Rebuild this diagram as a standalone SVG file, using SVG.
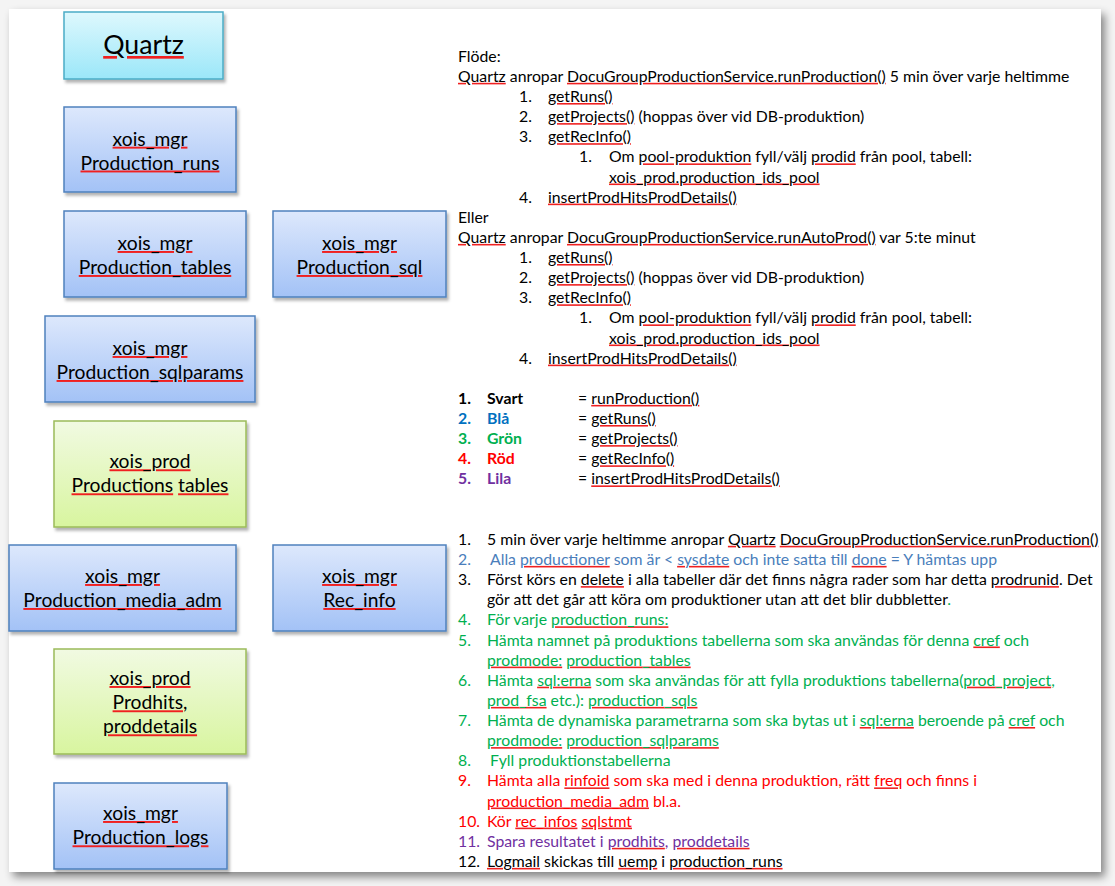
<svg xmlns="http://www.w3.org/2000/svg" width="1115" height="886" viewBox="0 0 1115 886">
<style>
text { font-family: Lato, "Liberation Sans", sans-serif; fill: #000; --c: #000; }
.t { font-size: 15.8px; }
.lbl { font-size: 19.3px; text-anchor: middle; }
.sq { fill: #f02020; text-decoration: underline; text-decoration-thickness: 1px; text-underline-offset: 2.5px; }
.w { fill: var(--c); }
.b { font-weight: bold; }
.blue { fill: #0070C0; --c: #0070C0; }
.slate { fill: #4A7EBB; --c: #4A7EBB; }
.green { fill: #00B050; --c: #00B050; }
.red { fill: #FF0000; --c: #FF0000; }
.purple { fill: #7030A0; --c: #7030A0; }
.bx { stroke: #4F81BD; stroke-width: 1.5; fill: url(#gBlue); filter: url(#sh); }
.gx { stroke: #9BBB59; stroke-width: 1.5; fill: url(#gGreen); filter: url(#sh); }
.cx { stroke: #4BACC6; stroke-width: 1.5; fill: url(#gCyan); filter: url(#sh); }
</style>
<defs>
<linearGradient id="gBlue" x1="0" y1="0" x2="0" y2="1"><stop offset="0" stop-color="#DDE8FC"/><stop offset="1" stop-color="#A3C2F6"/></linearGradient>
<linearGradient id="gGreen" x1="0" y1="0" x2="0" y2="1"><stop offset="0" stop-color="#F1FAE2"/><stop offset="1" stop-color="#D8F59F"/></linearGradient>
<linearGradient id="gCyan" x1="0" y1="0" x2="0" y2="1"><stop offset="0" stop-color="#DEF8FD"/><stop offset="1" stop-color="#9BE7F9"/></linearGradient>
<filter id="sh" x="-10%" y="-10%" width="130%" height="130%"><feDropShadow dx="2" dy="3" stdDeviation="1.5" flood-color="#000" flood-opacity="0.3"/></filter>
<filter id="psh" x="-5%" y="-5%" width="110%" height="110%"><feDropShadow dx="4" dy="5" stdDeviation="4" flood-color="#000" flood-opacity="0.45"/></filter>
</defs>
<rect width="1115" height="886" fill="#f4f4f4"/>
<rect x="9" y="9" width="1092" height="863" fill="#fff" filter="url(#psh)"/>

<g id="connectors"/>

<g id="quartz"><rect class="cx" x="64" y="12" width="159" height="67"/><text x="143.5" y="54" style="font-size:26.7px;text-anchor:middle"><tspan class="sq"><tspan class="w">Quartz</tspan></tspan></text></g>

<g id="production_runs"><rect class="bx" x="64" y="107" width="172" height="85"/><text class="lbl" x="150" y="145.7"><tspan class="sq"><tspan class="w">xois_mgr</tspan></tspan></text><text class="lbl" x="150" y="169.5"><tspan class="sq"><tspan class="w">Production_runs</tspan></tspan></text></g>

<g id="production_tables"><rect class="bx" x="64" y="211" width="182" height="86"/><text class="lbl" x="155" y="250"><tspan class="sq"><tspan class="w">xois_mgr</tspan></tspan></text><text class="lbl" x="155" y="274"><tspan class="sq"><tspan class="w">Production_tables</tspan></tspan></text></g>

<g id="production_sql"><rect class="bx" x="273" y="211" width="173" height="86"/><text class="lbl" x="359.5" y="250"><tspan class="sq"><tspan class="w">xois_mgr</tspan></tspan></text><text class="lbl" x="359.5" y="274"><tspan class="sq"><tspan class="w">Production_sql</tspan></tspan></text></g>

<g id="production_sqlparams"><rect class="bx" x="45" y="316" width="210" height="86"/><text class="lbl" x="150" y="355"><tspan class="sq"><tspan class="w">xois_mgr</tspan></tspan></text><text class="lbl" x="150" y="379"><tspan class="sq"><tspan class="w">Production_sqlparams</tspan></tspan></text></g>

<g id="productions_tables"><rect class="gx" x="54" y="421" width="192" height="106"/><text class="lbl" x="150" y="468.3"><tspan class="sq"><tspan class="w">xois_prod</tspan></tspan></text><text class="lbl" x="150" y="492.3"><tspan class="sq"><tspan class="w">Productions</tspan></tspan> <tspan class="sq"><tspan class="w">tables</tspan></tspan></text></g>

<g id="production_media_adm"><rect class="bx" x="9" y="545" width="227" height="86"/><text class="lbl" x="122.5" y="583"><tspan class="sq"><tspan class="w">xois_mgr</tspan></tspan></text><text class="lbl" x="122.5" y="607"><tspan class="sq"><tspan class="w">Production_media_adm</tspan></tspan></text></g>

<g id="rec_info"><rect class="bx" x="273" y="545" width="173" height="86"/><text class="lbl" x="359.5" y="583"><tspan class="sq"><tspan class="w">xois_mgr</tspan></tspan></text><text class="lbl" x="359.5" y="607"><tspan class="sq"><tspan class="w">Rec_info</tspan></tspan></text></g>

<g id="prodhits"><rect class="gx" x="54" y="649" width="192" height="105"/><text class="lbl" x="150" y="685"><tspan class="sq"><tspan class="w">xois_prod</tspan></tspan></text><text class="lbl" x="150" y="709.3"><tspan class="sq"><tspan class="w">Prodhits</tspan></tspan>,</text><text class="lbl" x="150" y="733.3"><tspan class="sq"><tspan class="w">proddetails</tspan></tspan></text></g>

<g id="production_logs"><rect class="bx" x="54" y="783" width="173" height="86"/><text class="lbl" x="140.5" y="820"><tspan class="sq"><tspan class="w">xois_mgr</tspan></tspan></text><text class="lbl" x="140.5" y="844.3"><tspan class="sq"><tspan class="w">Production_logs</tspan></tspan></text></g>

<g id="flow-text">
<text class="t" x="458" y="61.7">Flöde:</text>
<text class="t" x="458" y="81.8"><tspan class="sq"><tspan class="w">Quartz</tspan></tspan> anropar <tspan class="sq"><tspan class="w">DocuGroupProductionService.runProduction()</tspan></tspan> 5 min över varje heltimme</text>
<text class="t" x="519" y="102">1.</text><text class="t" x="548" y="102"><tspan class="sq"><tspan class="w">getRuns()</tspan></tspan></text>
<text class="t" x="519" y="122.1">2.</text><text class="t" x="548" y="122.1"><tspan class="sq"><tspan class="w">getProjects()</tspan></tspan> (hoppas över vid DB-produktion)</text>
<text class="t" x="519" y="142.2">3.</text><text class="t" x="548" y="142.2"><tspan class="sq"><tspan class="w">getRecInfo()</tspan></tspan></text>
<text class="t" x="579" y="162.4">1.</text><text class="t" x="609" y="162.4">Om <tspan class="sq"><tspan class="w">pool-produktion</tspan></tspan> fyll/välj <tspan class="sq"><tspan class="w">prodid</tspan></tspan> från pool, tabell:</text>
<text class="t" x="609" y="182.5"><tspan class="sq"><tspan class="w">xois_prod.production_ids_pool</tspan></tspan></text>
<text class="t" x="519" y="202.6">4.</text><text class="t" x="548" y="202.6"><tspan class="sq"><tspan class="w">insertProdHitsProdDetails()</tspan></tspan></text>
<text class="t" x="458" y="222.7">Eller</text>
<text class="t" x="458" y="242.9"><tspan class="sq"><tspan class="w">Quartz</tspan></tspan> anropar <tspan class="sq"><tspan class="w">DocuGroupProductionService.runAutoProd()</tspan></tspan> var 5:te minut</text>
<text class="t" x="519" y="263">1.</text><text class="t" x="548" y="263"><tspan class="sq"><tspan class="w">getRuns()</tspan></tspan></text>
<text class="t" x="519" y="283.1">2.</text><text class="t" x="548" y="283.1"><tspan class="sq"><tspan class="w">getProjects()</tspan></tspan> (hoppas över vid DB-produktion)</text>
<text class="t" x="519" y="303.3">3.</text><text class="t" x="548" y="303.3"><tspan class="sq"><tspan class="w">getRecInfo()</tspan></tspan></text>
<text class="t" x="579" y="323.4">1.</text><text class="t" x="609" y="323.4">Om <tspan class="sq"><tspan class="w">pool-produktion</tspan></tspan> fyll/välj <tspan class="sq"><tspan class="w">prodid</tspan></tspan> från pool, tabell:</text>
<text class="t" x="609" y="343.5"><tspan class="sq"><tspan class="w">xois_prod.production_ids_pool</tspan></tspan></text>
<text class="t" x="519" y="363.6">4.</text><text class="t" x="548" y="363.6"><tspan class="sq"><tspan class="w">insertProdHitsProdDetails()</tspan></tspan></text>
</g>

<g id="legend">
<text class="t b" x="458" y="403.9">1.</text><text class="t b" x="487" y="403.9">Svart</text><text class="t" x="578" y="403.9">= <tspan class="sq"><tspan class="w">runProduction()</tspan></tspan></text>
<text class="t b blue" x="458" y="424">2.</text><text class="t b blue" x="487" y="424">Blå</text><text class="t" x="578" y="424">= <tspan class="sq"><tspan class="w">getRuns()</tspan></tspan></text>
<text class="t b green" x="458" y="444.1">3.</text><text class="t b green" x="487" y="444.1">Grön</text><text class="t" x="578" y="444.1">= <tspan class="sq"><tspan class="w">getProjects()</tspan></tspan></text>
<text class="t b red" x="458" y="464.3">4.</text><text class="t b red" x="487" y="464.3">Röd</text><text class="t" x="578" y="464.3">= <tspan class="sq"><tspan class="w">getRecInfo()</tspan></tspan></text>
<text class="t b purple" x="458" y="484.4">5.</text><text class="t b purple" x="487" y="484.4">Lila</text><text class="t" x="578" y="484.4">= <tspan class="sq"><tspan class="w">insertProdHitsProdDetails()</tspan></tspan></text>
</g>

<g id="steps">
<text class="t" x="458" y="544.8">1.</text><text class="t" x="487" y="544.8">5 min över varje heltimme anropar <tspan class="sq"><tspan class="w">Quartz</tspan></tspan> <tspan class="sq"><tspan class="w">DocuGroupProductionService.runProduction()</tspan></tspan></text>
<text class="t slate" x="458" y="564.9">2.</text><text class="t slate" x="490" y="564.9">Alla <tspan class="sq"><tspan class="w">productioner</tspan></tspan> som är &lt; <tspan class="sq"><tspan class="w">sysdate</tspan></tspan> och inte satta till <tspan class="sq"><tspan class="w">done</tspan></tspan> = Y hämtas upp</text>
<text class="t" x="458" y="585.1">3.</text><text class="t" x="487" y="585.1">Först körs en <tspan class="sq"><tspan class="w">delete</tspan></tspan> i alla tabeller där det finns några rader som har detta <tspan class="sq"><tspan class="w">prodrunid</tspan></tspan>. Det</text>
<text class="t" x="487" y="605.2">gör att det går att köra om produktioner utan att det blir dubbletter<tspan class="green">.</tspan></text>
<text class="t green" x="458" y="625.3">4.</text><text class="t green" x="487" y="625.3">För varje <tspan class="sq"><tspan class="w">production_runs:</tspan></tspan></text>
<text class="t green" x="458" y="645.5">5.</text><text class="t green" x="487" y="645.5">Hämta namnet på produktions tabellerna som ska användas för denna <tspan class="sq"><tspan class="w">cref</tspan></tspan> och</text>
<text class="t green" x="487" y="665.6"><tspan class="sq"><tspan class="w">prodmode:</tspan></tspan> <tspan class="sq"><tspan class="w">production_tables</tspan></tspan></text>
<text class="t green" x="458" y="685.7">6.</text><text class="t green" x="487" y="685.7">Hämta <tspan class="sq"><tspan class="w">sql:erna</tspan></tspan> som ska användas för att fylla produktions tabellerna(<tspan class="sq"><tspan class="w">prod_project</tspan></tspan>,</text>
<text class="t green" x="487" y="705.9"><tspan class="sq"><tspan class="w">prod_fsa</tspan></tspan> etc.): <tspan class="sq"><tspan class="w">production_sqls</tspan></tspan></text>
<text class="t green" x="458" y="726">7.</text><text class="t green" x="487" y="726">Hämta de dynamiska parametrarna som ska bytas ut i <tspan class="sq"><tspan class="w">sql:erna</tspan></tspan> beroende på <tspan class="sq"><tspan class="w">cref</tspan></tspan> och</text>
<text class="t green" x="487" y="746.1"><tspan class="sq"><tspan class="w">prodmode:</tspan></tspan> <tspan class="sq"><tspan class="w">production_sqlparams</tspan></tspan></text>
<text class="t green" x="458" y="766.3">8.</text><text class="t green" x="490" y="766.3">Fyll produktionstabellerna</text>
<text class="t red" x="458" y="786.4">9.</text><text class="t red" x="487" y="786.4">Hämta alla <tspan class="sq"><tspan class="w">rinfoid</tspan></tspan> som ska med i denna produktion, rätt <tspan class="sq"><tspan class="w">freq</tspan></tspan> och finns i</text>
<text class="t red" x="487" y="806.5"><tspan class="sq"><tspan class="w">production_media_adm</tspan></tspan> bl.a.</text>
<text class="t red" x="458" y="826.6">10.</text><text class="t red" x="487" y="826.6">Kör <tspan class="sq"><tspan class="w">rec_infos</tspan></tspan> <tspan class="sq"><tspan class="w">sqlstmt</tspan></tspan></text>
<text class="t purple" x="458" y="846.8">11.</text><text class="t purple" x="487" y="846.8">Spara resultatet i <tspan class="sq"><tspan class="w">prodhits</tspan></tspan>, <tspan class="sq"><tspan class="w">proddetails</tspan></tspan></text>
<text class="t" x="458" y="866.9">12.</text><text class="t" x="487" y="866.9"><tspan class="sq"><tspan class="w">Logmail</tspan></tspan> skickas till <tspan class="sq"><tspan class="w">uemp</tspan></tspan> i <tspan class="sq"><tspan class="w">production_runs</tspan></tspan></text>
</g>
</svg>
